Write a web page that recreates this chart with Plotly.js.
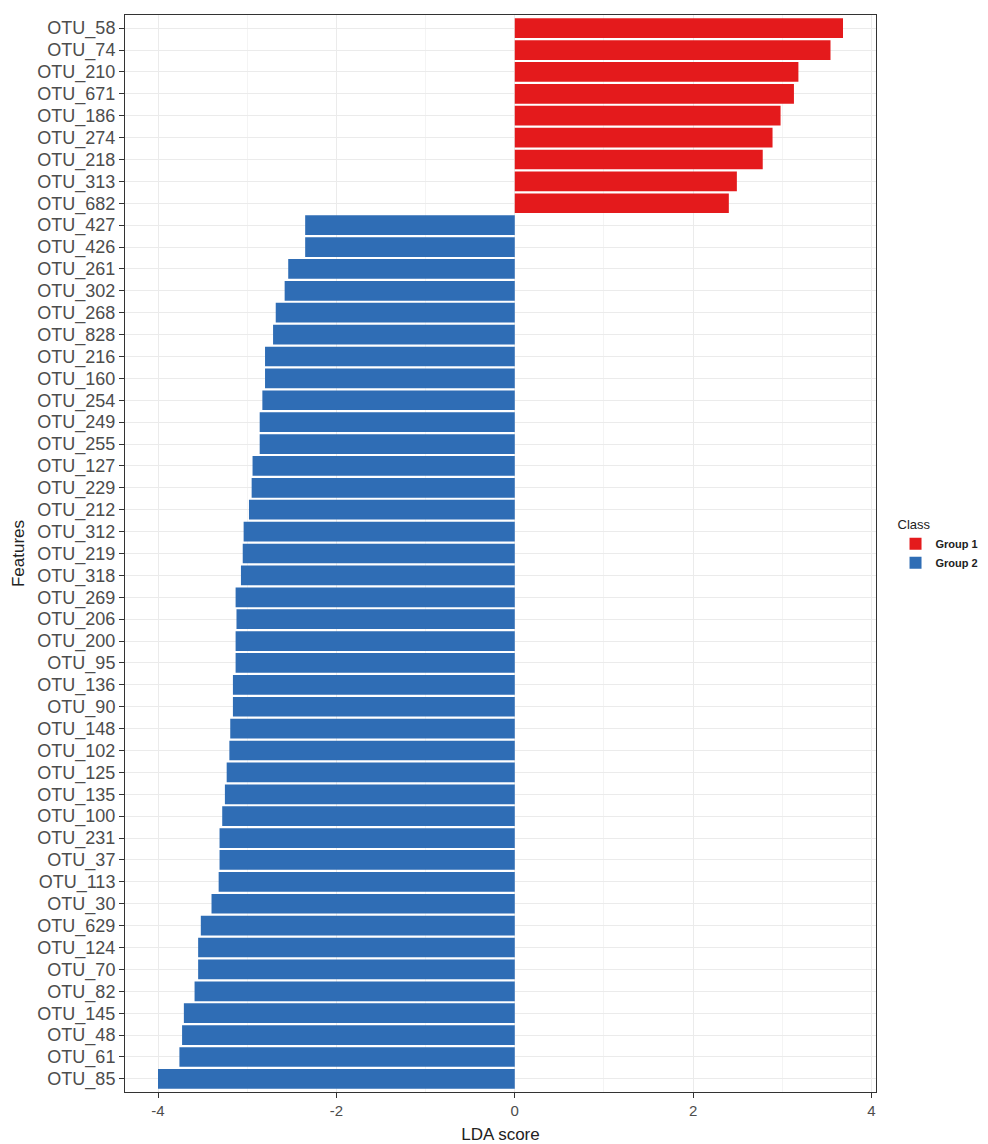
<!DOCTYPE html>
<html>
<head>
<meta charset="utf-8">
<script src="https://cdn.plot.ly/plotly-3.0.1.min.js"></script>
<style>
  html, body { margin: 0; padding: 0; background: #ffffff; }
  #chart { width: 988px; height: 1144px; }
</style>
</head>
<body>
<div id="chart"></div>
<script>
// Features enriched in Group 1 (positive LDA score)
const group1Features = ["OTU_58", "OTU_74", "OTU_210", "OTU_671", "OTU_186", "OTU_274", "OTU_218", "OTU_313", "OTU_682"];
const group1Scores = [3.68, 3.54, 3.18, 3.13, 2.98, 2.89, 2.78, 2.49, 2.40];

// Features enriched in Group 2 (negative LDA score)
const group2Features = ["OTU_427", "OTU_426", "OTU_261", "OTU_302", "OTU_268", "OTU_828", "OTU_216", "OTU_160",
  "OTU_254", "OTU_249", "OTU_255", "OTU_127", "OTU_229", "OTU_212", "OTU_312", "OTU_219", "OTU_318", "OTU_269",
  "OTU_206", "OTU_200", "OTU_95", "OTU_136", "OTU_90", "OTU_148", "OTU_102", "OTU_125", "OTU_135", "OTU_100",
  "OTU_231", "OTU_37", "OTU_113", "OTU_30", "OTU_629", "OTU_124", "OTU_70", "OTU_82", "OTU_145", "OTU_48",
  "OTU_61", "OTU_85"];
const group2Scores = [-2.35, -2.35, -2.54, -2.58, -2.68, -2.71, -2.80, -2.80,
  -2.83, -2.86, -2.86, -2.94, -2.95, -2.98, -3.04, -3.05, -3.07, -3.13,
  -3.12, -3.13, -3.13, -3.16, -3.16, -3.19, -3.20, -3.23, -3.25, -3.28,
  -3.31, -3.31, -3.32, -3.40, -3.52, -3.55, -3.55, -3.59, -3.71, -3.73,
  -3.76, -4.00];

const classNames = ["Group 1", "Group 2"];
const classColors = ["#E41A1C", "#2F6DB5"];
const xTicks = [-4, -2, 0, 2, 4];

const featureOrder = group1Features.concat(group2Features);

const traces = [
  { x: group1Scores, y: group1Features, name: classNames[0], color: classColors[0] },
  { x: group2Scores, y: group2Features, name: classNames[1], color: classColors[1] }
].map(s => ({
  type: "bar",
  orientation: "h",
  x: s.x,
  y: s.y,
  name: s.name,
  width: 0.9,
  marker: { color: s.color, line: { width: 0 } },
  hoverinfo: "x+y"
}));

const n = featureOrder.length;

const layout = {
  width: 988,
  height: 1144,
  margin: { l: 125, r: 112, t: 15, b: 52, autoexpand: false },
  paper_bgcolor: "#ffffff",
  plot_bgcolor: "#ffffff",
  font: { family: "Liberation Sans, Arial, sans-serif", color: "#4D4D4D" },
  barmode: "overlay",
  showlegend: true,
  legend: {
    x: 1.026, xanchor: "left",
    y: 0.508, yanchor: "middle",
    title: { text: "Class", font: { size: 13, color: "#222222", weight: "normal" } },
    font: { size: 11, color: "#222222", family: "Liberation Sans, Arial, sans-serif", weight: "bold" },
    itemwidth: 30,
    tracegroupgap: 0,
    bgcolor: "rgba(0,0,0,0)"
  },
  xaxis: {
    range: [-4.37, 4.05],
    automargin: false,
    tickmode: "array",
    tickvals: xTicks,
    ticktext: xTicks.map(String),
    ticks: "outside",
    ticklen: 5,
    tickcolor: "#333333",
    tickfont: { size: 15, color: "#4D4D4D" },
    showgrid: true,
    gridcolor: "#EBEBEB",
    gridwidth: 1,
    minor: { dtick: 1, tick0: 0, showgrid: true, gridcolor: "#F4F4F4", gridwidth: 1 },
    zeroline: false,
    showline: true,
    mirror: true,
    linecolor: "#333333",
    linewidth: 1,
    title: { text: "LDA score", font: { size: 17, color: "#222222" }, standoff: 14 }
  },
  yaxis: {
    type: "category",
    categoryorder: "array",
    categoryarray: featureOrder,
    range: [n - 0.4, -0.6],
    automargin: false,
    tickmode: "linear",
    tick0: 0,
    dtick: 1,
    ticks: "outside",
    ticklen: 5,
    tickcolor: "#333333",
    tickfont: { size: 18, color: "#4D4D4D" },
    showgrid: true,
    gridcolor: "#EBEBEB",
    gridwidth: 1,
    zeroline: false,
    showline: true,
    mirror: true,
    linecolor: "#333333",
    linewidth: 1,
    title: { text: "Features", font: { size: 17, color: "#222222" }, standoff: 8 }
  }
};

Plotly.newPlot("chart", traces, layout, { displayModeBar: false, staticPlot: true });
</script>
</body>
</html>
